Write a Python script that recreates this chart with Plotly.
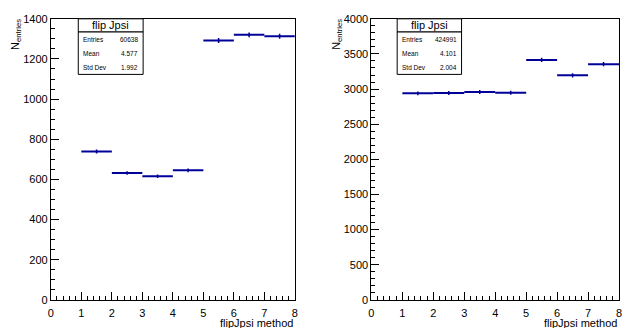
import plotly.graph_objects as go

# bin centres of the 8 bins from 0 to 8 (bin 0-1 is empty)
bin_centers = [1.5, 2.5, 3.5, 4.5, 5.5, 6.5, 7.5]
bin_half_widths = [0.5, 0.5, 0.5, 0.5, 0.5, 0.5, 0.5]

left_counts = [739, 632, 616, 645, 1292, 1320, 1313]
left_errors = [10, 9, 9, 9, 12, 12, 12]
right_counts = [2939, 2944, 2958, 2948, 3414, 3195, 3355]
right_errors = [28, 28, 28, 28, 30, 29, 30]

left_stats = {'Entries': '60638', 'Mean': '4.577', 'Std Dev': '1.992'}
right_stats = {'Entries': '424991', 'Mean': '4.101', 'Std Dev': '2.004'}

W, H = 624, 328
BLUE = '#000099'
FONT = 'Liberation Sans, Arial, sans-serif'


def px_x(x):
	return x / W


def px_y(y):
	return 1 - y / H


fig = go.Figure()

for counts, errs, xa, ya in [(left_counts, left_errors, 'x', 'y'), (right_counts, right_errors, 'x2', 'y2')]:
	fig.add_trace(go.Scatter(x=bin_centers, y=counts, mode='markers', xaxis=xa, yaxis=ya,
	                         marker=dict(size=2, color=BLUE),
	                         error_x=dict(type='data', array=bin_half_widths, width=0, thickness=2, color=BLUE),
	                         error_y=dict(type='data', array=errs, width=0, thickness=1.5, color=BLUE),
	                         showlegend=False, hoverinfo='x+y'))

xcommon = dict(range=[0, 8], dtick=1, tick0=0, ticks='inside', ticklen=8, tickwidth=1, tickcolor='black',
               showline=True, linecolor='black', linewidth=1, mirror=True, showgrid=False, zeroline=False,
               tickfont=dict(family=FONT, size=11, color='black'), ticklabelstandoff=3,
               minor=dict(ticks='inside', dtick=0.2, ticklen=4, tickcolor='black', showgrid=False))
ycommon = dict(ticks='inside', ticklen=8, tickwidth=1, tickcolor='black',
               showline=True, linecolor='black', linewidth=1, mirror=True, showgrid=False, zeroline=False,
               tickfont=dict(family=FONT, size=11, color='black'))

fig.update_layout(
	width=W, height=H, autosize=False,
	margin=dict(l=0, r=0, t=0, b=0),
	paper_bgcolor='white', plot_bgcolor='white',
	xaxis=dict(xcommon, domain=[px_x(48.3), px_x(294.7)], anchor='y'),
	yaxis=dict(ycommon, domain=[px_y(305), px_y(13.3)], anchor='x', range=[0, 1400], dtick=200,
	           minor=dict(ticks='inside', dtick=50, ticklen=4, tickcolor='black', showgrid=False)),
	xaxis2=dict(xcommon, domain=[px_x(372), px_x(622)], anchor='y2'),
	yaxis2=dict(ycommon, domain=[px_y(305), px_y(13.3)], anchor='x2', range=[0, 4000], dtick=500,
	            minor=dict(ticks='inside', dtick=100, ticklen=4, tickcolor='black', showgrid=False)),
)

shapes = []
annotations = []
for stats, bx0, bx1, ylab_x, xtitle_r in [(left_stats, 76, 141.5, 13, 294.7), (right_stats, 398, 463, 337, 622)]:
	# stat box: title cell and stats cell
	shapes.append(dict(type='rect', xref='paper', yref='paper', x0=px_x(bx0), x1=px_x(bx1),
	                   y0=px_y(27), y1=px_y(13.3), line=dict(color='black', width=1), fillcolor='white'))
	shapes.append(dict(type='rect', xref='paper', yref='paper', x0=px_x(bx0), x1=px_x(bx1),
	                   y0=px_y(71), y1=px_y(27), line=dict(color='black', width=1), fillcolor='white'))
	annotations.append(dict(text='flip Jpsi', xref='paper', yref='paper', x=px_x((bx0 + bx1) / 2), y=px_y(20),
	                        showarrow=False, xanchor='center', yanchor='middle',
	                        font=dict(family=FONT, size=11, color='black')))
	for row_y, (name, val) in zip([34.3, 49.7, 64.3], stats.items()):
		annotations.append(dict(text=name, xref='paper', yref='paper', x=px_x(bx0 + 2.5), y=px_y(row_y),
		                        showarrow=False, xanchor='left', yanchor='middle',
		                        font=dict(family=FONT, size=6.5, color='black')))
		annotations.append(dict(text=val, xref='paper', yref='paper', x=px_x(bx1 - 3), y=px_y(row_y),
		                        showarrow=False, xanchor='right', yanchor='middle',
		                        font=dict(family=FONT, size=6.5, color='black')))
	annotations.append(dict(text='N<sub>entries</sub>', xref='paper', yref='paper', x=px_x(ylab_x), y=px_y(11),
	                        textangle=-90, showarrow=False, xanchor='center', yanchor='top',
	                        font=dict(family=FONT, size=11, color='black')))
	annotations.append(dict(text='flipJpsi method', xref='paper', yref='paper', x=px_x(xtitle_r), y=px_y(321),
	                        showarrow=False, xanchor='right', yanchor='top',
	                        font=dict(family=FONT, size=11, color='black')))

fig.update_layout(shapes=shapes, annotations=annotations)

# the default page has an 8px body margin; drop it so the figure fills the window
fig.write_html("out.html", config={'displayModeBar': False},
               post_script="document.body.style.margin='0';")
